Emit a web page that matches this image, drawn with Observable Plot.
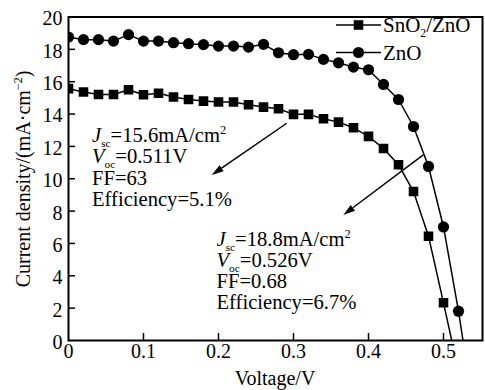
<!DOCTYPE html>
<html>
<head>
<meta charset="utf-8">
<script src="https://cdn.jsdelivr.net/npm/d3@7"></script>
<script src="https://cdn.jsdelivr.net/npm/@observablehq/plot@0.6"></script>
<style>
  html, body { margin: 0; padding: 0; background: #fff; }
</style>
</head>
<body>
<div id="chart"></div>
<script>
// ---------- data ----------
const seriesNames = ["SnO2/ZnO", "ZnO"];
const voltage = [0, 0.02, 0.04, 0.06, 0.08, 0.10, 0.12, 0.14, 0.16, 0.18, 0.20, 0.22, 0.24, 0.26,
                 0.28, 0.30, 0.32, 0.34, 0.36, 0.38, 0.40, 0.42, 0.44, 0.46, 0.48, 0.50, 0.52];
const jSnO2ZnO = [15.57, 15.36, 15.21, 15.21, 15.50, 15.19, 15.29, 15.05, 14.90, 14.80, 14.74, 14.74, 14.58, 14.43,
                  14.33, 13.98, 13.98, 13.71, 13.50, 13.15, 12.62, 11.87, 10.87, 9.21, 6.45, 2.33];
const jZnO = [18.76, 18.60, 18.60, 18.51, 18.91, 18.51, 18.51, 18.41, 18.35, 18.29, 18.20, 18.20, 18.14, 18.31,
              17.79, 17.67, 17.69, 17.38, 17.17, 16.90, 16.74, 15.83, 14.90, 13.23, 10.76, 7.02, 1.81];
const voc = [0.511, 0.526];            // open-circuit voltages (J = 0)
const xTicks = [0, 0.1, 0.2, 0.3, 0.4, 0.5];
const yTicks = [0, 2, 4, 6, 8, 10, 12, 14, 16, 18, 20];
const xTitle = [["Voltage/V"]];
const yTitle = [["Current density/(mA·cm"], ["−2", "sup"], [")"]];
const legendLabels = [[["SnO"], ["2", "sub"], ["/ZnO"]], [["ZnO"]]];
const noteSnO2 = [
  [["J", "i"], ["sc", "sub"], ["=15.6mA/cm"], ["2", "sup"]],
  [["V", "i"], ["oc", "sub"], ["=0.511V"]],
  [["FF=63"]],
  [["Efficiency=5.1%"]]
];
const noteZnO = [
  [["J", "i"], ["sc", "sub"], ["=18.8mA/cm"], ["2", "sup"]],
  [["V", "i"], ["oc", "sub"], ["=0.526V"]],
  [["FF=0.68"]],
  [["Efficiency=6.7%"]]
];

// ---------- build tables ----------
const seriesValues = [jSnO2ZnO, jZnO];
const points = seriesNames.flatMap((s, k) =>
  seriesValues[k].map((j, i) => ({series: s, v: voltage[i], j})));
const linePoints = seriesNames.flatMap((s, k) =>
  [...points.filter(d => d.series === s), {series: s, v: voc[k], j: 0}]);

// ---------- helpers ----------
const FONT = "'Liberation Serif', 'Times New Roman', serif";
const FS = 20;
const NOTE_FS = 20.6;
const LEG_FS = 21;

function richLine(textSel, segs, size) {
  let shift = 0;
  for (const [t, kind] of segs) {
    const target = kind === "sub" ? size * 0.22 : kind === "sup" ? -size * 0.38 : 0;
    const ts = textSel.append("tspan").text(t);
    if (target - shift !== 0) ts.attr("dy", target - shift);
    shift = target;
    if (kind === "sub") ts.attr("font-size", size * 0.55);
    if (kind === "sup") ts.attr("font-size", size * 0.6);
    if (kind === "i") ts.attr("font-style", "italic");
  }
}

function note(lines, vx, jy, lh) {
  return (index, {x, y}) => {
    const g = d3.create("svg:g").attr("font-family", FONT).attr("font-size", NOTE_FS)
      .attr("fill", "black").attr("text-anchor", "start");
    lines.forEach((segs, k) => {
      const t = g.append("text").attr("x", x(vx)).attr("y", y(jy) + k * lh + NOTE_FS * 0.35);
      richLine(t, segs, NOTE_FS);
    });
    return g.node();
  };
}

function titles(index, scales, values, dims) {
  const g = d3.create("svg:g").attr("font-family", FONT).attr("font-size", FS).attr("fill", "black");
  const cx = dims.marginLeft + (dims.width - dims.marginLeft - dims.marginRight) / 2;
  const tx = g.append("text").attr("x", cx).attr("y", 385).attr("text-anchor", "middle");
  richLine(tx, xTitle, FS);
  const ty = g.append("text").attr("transform", "translate(30,179) rotate(-90)").attr("text-anchor", "middle");
  richLine(ty, yTitle, FS);
  return g.node();
}

function legend(index, scales, values, dims) {
  const g = d3.create("svg:g");
  const rows = [25, 52.5];
  const syms = [d3.symbol(d3.symbolSquare, Math.PI * 5.4 * 5.4), d3.symbol(d3.symbolCircle, Math.PI * 5.6 * 5.6)];
  legendLabels.forEach((segs, k) => {
    const yy = rows[k];
    g.append("line").attr("x1", 336).attr("x2", 381).attr("y1", yy).attr("y2", yy)
      .attr("stroke", "black").attr("stroke-width", 1.5);
    g.append("path").attr("d", syms[k]()).attr("transform", `translate(358.5,${yy})`).attr("fill", "black");
    const t = g.append("text").attr("x", 383).attr("y", yy + LEG_FS * 0.35).attr("text-anchor", "start")
      .attr("font-family", FONT).attr("font-size", LEG_FS).attr("fill", "black");
    richLine(t, segs, LEG_FS);
  });
  return g.node();
}

const arrows = [
  {x1: 0.2916, y1: 13.40, x2: 0.1916, y2: 10.20},
  {x1: 0.4737, y1: 11.44, x2: 0.3670, y2: 7.73}
];

function arrowMark(index, {x, y}) {
  const g = d3.create("svg:g");
  for (const a of arrows) {
    const X1 = x(a.x1), Y1 = y(a.y1), X2 = x(a.x2), Y2 = y(a.y2);
    const ang = Math.atan2(Y2 - Y1, X2 - X1);
    const L = 12, W = 3.6;
    const bx = X2 - L * Math.cos(ang), by = Y2 - L * Math.sin(ang);
    g.append("line").attr("x1", X1).attr("y1", Y1).attr("x2", bx).attr("y2", by)
      .attr("stroke", "black").attr("stroke-width", 1.5);
    const px = -Math.sin(ang) * W, py = Math.cos(ang) * W;
    g.append("path").attr("d", `M${X2},${Y2}L${bx + px},${by + py}L${bx - px},${by - py}Z`).attr("fill", "black");
  }
  return g.node();
}

// ---------- plot ----------
const chart = Plot.plot({
  width: 485,
  height: 390,
  marginLeft: 68,
  marginRight: 3,
  marginTop: 16.5,
  marginBottom: 50,
  style: {fontFamily: FONT, background: "white", color: "black"},
  x: {domain: [0, 0.552]},
  y: {domain: [0, 20]},
  marks: [
    Plot.ruleX(xTicks.filter(d => d > 0), {x: d => d, y1: 0, y2: 0, insetTop: -7, stroke: "black", strokeWidth: 1.5}),
    Plot.ruleY(yTicks.filter(d => d > 0 && d < 20), {y: d => d, x1: 0, x2: 0, insetRight: -7, stroke: "black", strokeWidth: 1.5}),
    Plot.axisX({ticks: xTicks, tickSize: 0, tickPadding: 3, label: null, fontSize: FS,
      tickFormat: d => d === 0 ? "0" : d3.format(".1f")(d)}),
    Plot.axisY({ticks: yTicks, tickSize: 0, tickPadding: 6, label: null, fontSize: FS, dy: 2,
      tickFormat: d3.format("d")}),
    Plot.line(linePoints, {x: "v", y: "j", z: "series", stroke: "black", strokeWidth: 1.5, clip: true}),
    Plot.dot(points.filter(d => d.series === seriesNames[0]), {x: "v", y: "j", symbol: "square", r: 5.4, fill: "black", clip: true}),
    Plot.dot(points.filter(d => d.series === seriesNames[1]), {x: "v", y: "j", symbol: "circle", r: 5.6, fill: "black", clip: true}),
    arrowMark,
    note(noteSnO2, 0.032, 12.68, 21.3),
    note(noteZnO, 0.198, 6.25, 21),
    legend,
    titles,
    Plot.frame({stroke: "black", strokeWidth: 2})
  ]
});
document.getElementById("chart").appendChild(chart);
</script>
</body>
</html>
